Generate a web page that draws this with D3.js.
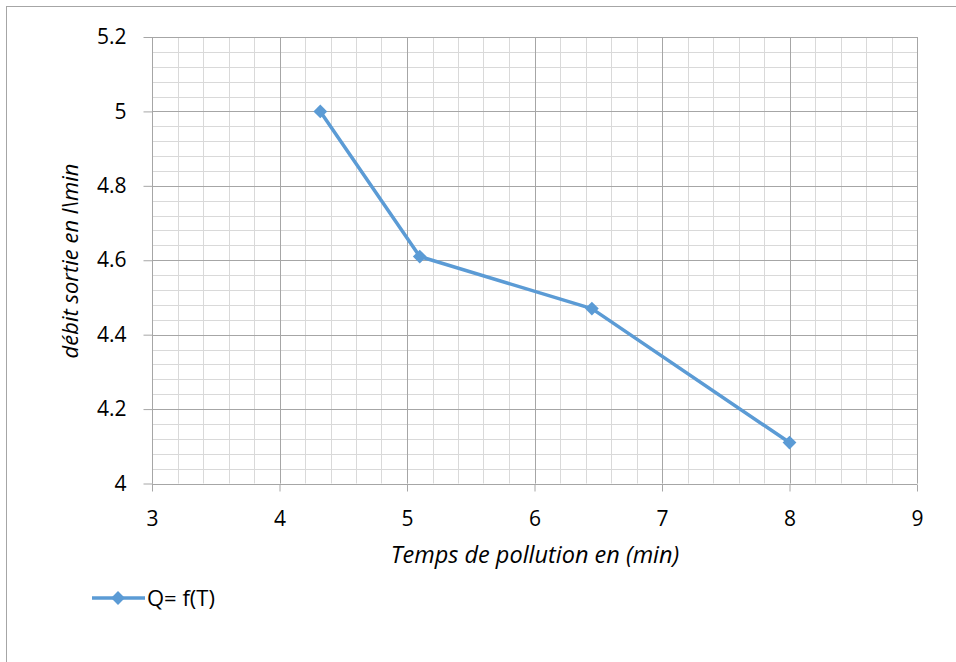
<!DOCTYPE html>
<html>
<head>
<meta charset="utf-8">
<script src="https://cdn.jsdelivr.net/npm/d3@7/dist/d3.min.js"></script>
<style>
  html, body { margin: 0; padding: 0; background: #fff; }
  svg { display: block; font-family: "Open Sans", Lato, sans-serif; }
</style>
</head>
<body>
<svg id="chart" width="956" height="662"></svg>
<script>
// Measured series: outlet flow vs pollution time
const timeMin = [4.32, 5.1, 6.45, 8];
const flowLmin = [5, 4.61, 4.47, 4.11];
const xTicks = [3, 4, 5, 6, 7, 8, 9];
const yTicks = [4, 4.2, 4.4, 4.6, 4.8, 5, 5.2];
const seriesName = "Q= f(T)";
const xTitle = "Temps de pollution en (min)";
const yTitle = "débit sortie en l\\min";

const svg = d3.select("#chart");
const W = 956, H = 662;
const plotL = 152, plotR = 917, plotT = 37, plotB = 483.5;
const color = "#5B9BD5";
const font = "'Open Sans', Lato, sans-serif";

// chart frame
svg.append("rect").attr("x", 6.5).attr("y", 6.5).attr("width", W + 10).attr("height", H + 10)
  .attr("fill", "#fff").attr("stroke", "#a6a6a6").attr("stroke-width", 1);

const x = d3.scaleLinear().domain([3, 9]).range([plotL, plotR]);
const y = d3.scaleLinear().domain([4, 5.2]).range([plotB, plotT]);

// minor grid
const xMinor = d3.range(3, 9.0001, 0.2).map(v => +v.toFixed(2));
const yMinor = d3.range(4, 5.2001, 0.04).map(v => +v.toFixed(2));
const g = svg.append("g");
g.selectAll("line.xm").data(xMinor).join("line")
  .attr("x1", d => Math.round(x(d)) + 0.5).attr("x2", d => Math.round(x(d)) + 0.5)
  .attr("y1", plotT).attr("y2", plotB).attr("stroke", "#d9d9d9").attr("stroke-width", 1);
g.selectAll("line.ym").data(yMinor).join("line")
  .attr("y1", d => Math.round(y(d)) + 0.5).attr("y2", d => Math.round(y(d)) + 0.5)
  .attr("x1", plotL).attr("x2", plotR).attr("stroke", "#d9d9d9").attr("stroke-width", 1);

// major grid
g.selectAll("line.xM").data(xTicks).join("line")
  .attr("x1", d => Math.round(x(d)) + 0.5).attr("x2", d => Math.round(x(d)) + 0.5)
  .attr("y1", plotT).attr("y2", plotB).attr("stroke", "#a6a6a6").attr("stroke-width", 1);
g.selectAll("line.yM").data(yTicks).join("line")
  .attr("y1", d => Math.round(y(d)) + 0.5).attr("y2", d => Math.round(y(d)) + 0.5)
  .attr("x1", plotL).attr("x2", plotR).attr("stroke", "#a6a6a6").attr("stroke-width", 1);

// axes
const xAxis = d3.axisBottom(x).tickValues(xTicks).tickSize(7).tickPadding(20).tickFormat(d3.format("d"));
const yAxis = d3.axisLeft(y).tickValues(yTicks).tickSize(9).tickPadding(17).tickFormat(d => String(+d.toFixed(1)));
const gx = svg.append("g").attr("transform", `translate(0,${Math.round(plotB) + 0.5})`).call(xAxis);
const gy = svg.append("g").attr("transform", `translate(${Math.round(plotL) + 0.5},0)`).call(yAxis);
[gx, gy].forEach(a => {
  a.select(".domain").attr("stroke", "#a6a6a6");
  a.selectAll(".tick line").attr("stroke", "#a6a6a6");
  a.selectAll(".tick text").attr("fill", "#000").style("font-size", "21px").style("font-family", font);
});
gx.select(".domain").attr("d", `M${plotL},0H${plotR}`);
gy.select(".domain").attr("d", `M0,${plotT}V${plotB}`);

// axis titles
svg.append("text").attr("x", 535).attr("y", 563).attr("text-anchor", "middle")
  .style("font-size", "23.5px").style("font-style", "italic").text(xTitle);
svg.append("text").attr("transform", `translate(78,261) rotate(-90)`)
  .attr("text-anchor", "middle").style("font-size", "22px").style("font-style", "italic").text(yTitle);

// series line and markers
const pts = timeMin.map((t, i) => [t, flowLmin[i]]);
svg.append("path").datum(pts)
  .attr("d", d3.line().x(d => x(d[0])).y(d => y(d[1])))
  .attr("fill", "none").attr("stroke", color).attr("stroke-width", 3.5).attr("stroke-linejoin", "round");
const diamond = d3.symbol().type(d3.symbolSquare).size(95);
svg.selectAll("path.mk").data(pts).join("path")
  .attr("transform", d => `translate(${x(d[0])},${y(d[1])}) rotate(45)`)
  .attr("d", diamond).attr("fill", color);

// legend
const ly = 598;
svg.append("line").attr("x1", 92).attr("x2", 145).attr("y1", ly).attr("y2", ly)
  .attr("stroke", color).attr("stroke-width", 3.5);
svg.append("path").attr("transform", `translate(118,${ly}) rotate(45)`).attr("d", diamond).attr("fill", color);
svg.append("text").attr("x", 147).attr("y", ly + 8).style("font-size", "22px").text(seriesName);
</script>
</body>
</html>
